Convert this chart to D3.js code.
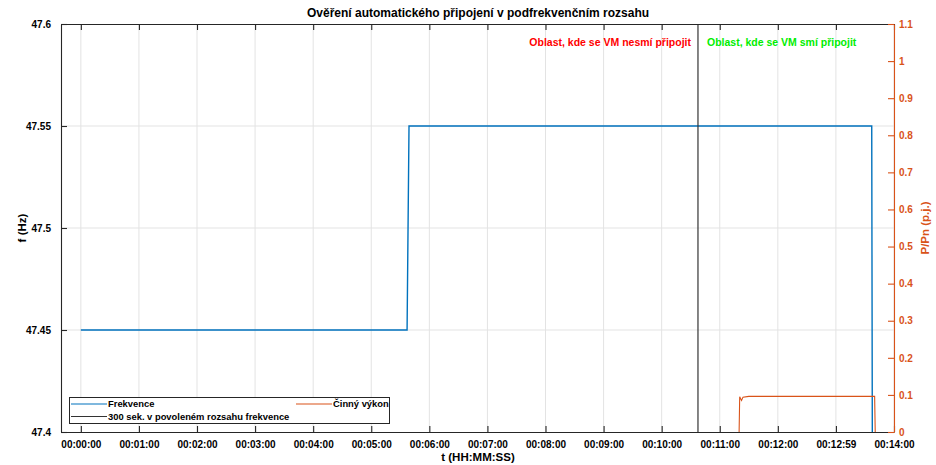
<!DOCTYPE html>
<html><head><meta charset="utf-8">
<script src="https://cdn.jsdelivr.net/npm/d3@7"></script>
<style>body{margin:0;background:#fff}svg{display:block}text{font-family:"Liberation Sans",Arial,sans-serif}</style>
</head><body><svg id="c" width="936" height="465"></svg>
<script>
// ---- data ----
const title = "Ověření automatického připojení v podfrekvenčním rozsahu";
const xTickSeconds = [0,60,120,180,240,300,360,420,480,540,600,660,720,780,840];
const xTickLabels = ["00:00:00","00:01:00","00:02:00","00:03:00","00:04:00","00:05:00","00:06:00","00:07:00","00:08:00","00:09:00","00:10:00","00:11:00","00:12:00","00:12:59","00:14:00"];
const fTicks = [47.4,47.45,47.5,47.55,47.6];
const fTickLabels = ["47.4","47.45","47.5","47.55","47.6"];
const pTicks = [0,0.1,0.2,0.3,0.4,0.5,0.6,0.7,0.8,0.9,1,1.1];
const pTickLabels = ["0","0.1","0.2","0.3","0.4","0.5","0.6","0.7","0.8","0.9","1","1.1"];
const freqT = [0, 337, 339, 817, 818];
const freqV = [47.45, 47.45, 47.55, 47.55, 47.30];
const powerT = [680, 680.6, 682.5, 684, 690, 820, 820.6];
const powerV = [0, 0.095, 0.085, 0.094, 0.096, 0.096, 0];
const allowedT = [637.5];
const legendNames = ["Frekvence","Činný výkon","300 sek. v povoleném rozsahu frekvence"];
const regionLabels = ["Oblast, kde se VM nesmí připojit","Oblast, kde se VM smí připojit"];

// ---- layout ----
const L=61,R=894,T=24,B=432;
const blue="#0072BD", orange="#D95319", grid="#e3e3e3", axc="#262626";
const svg=d3.select("#c");
const x=d3.scaleLinear().domain([-20.5,840]).range([L,R]);
const yF=d3.scaleLinear().domain([47.4,47.6]).range([B,T]);
const yP=d3.scaleLinear().domain([0,1.1]).range([B,T]);

// grid
svg.append("g").selectAll("line").data(xTickSeconds).join("line")
  .attr("x1",d=>x(d)).attr("x2",d=>x(d)).attr("y1",T).attr("y2",B).attr("stroke",grid).attr("stroke-width",1);
svg.append("g").selectAll("line").data(fTicks.slice(1,-1)).join("line")
  .attr("x1",L).attr("x2",R).attr("y1",d=>yF(d)).attr("y2",d=>yF(d)).attr("stroke",grid).attr("stroke-width",1);

svg.append("clipPath").attr("id","cp").append("rect").attr("x",L).attr("y",T).attr("width",R-L).attr("height",B-T);
const plot=svg.append("g").attr("clip-path","url(#cp)");

// frequency
const freq=freqT.map((t,i)=>[t,freqV[i]]);
plot.append("path").datum(freq).attr("fill","none").attr("stroke",blue).attr("stroke-width",1.4)
  .attr("d",d3.line().x(d=>x(d[0])).y(d=>yF(d[1])));
// power
const pw=powerT.map((t,i)=>[t,powerV[i]]);
plot.append("path").datum(pw).attr("fill","none").attr("stroke",orange).attr("stroke-width",1.1)
  .attr("d",d3.line().x(d=>x(d[0])).y(d=>yP(d[1])));
// 300 s line
plot.selectAll(".al").data(allowedT).join("line").attr("x1",d=>x(d)).attr("x2",d=>x(d)).attr("y1",T).attr("y2",B)
  .attr("stroke","#333").attr("stroke-width",1.2);

// axes
const fmtX=d=>xTickLabels[xTickSeconds.indexOf(d)];
const gx=svg.append("g").attr("transform",`translate(0,${B})`)
  .call(d3.axisBottom(x).tickValues(xTickSeconds).tickFormat(fmtX).tickSizeInner(-6).tickSizeOuter(0).tickPadding(10));
const gxt=svg.append("g").attr("transform",`translate(0,${T})`)
  .call(d3.axisTop(x).tickValues(xTickSeconds).tickFormat("").tickSizeInner(-6).tickSizeOuter(0));
const fmtF=d=>fTickLabels[fTicks.indexOf(d)];
const gy=svg.append("g").attr("transform",`translate(${L},0)`)
  .call(d3.axisLeft(yF).tickValues(fTicks).tickFormat(fmtF).tickSizeInner(-6).tickSizeOuter(0).tickPadding(10));
const fmtP=d=>pTickLabels[pTicks.indexOf(d)];
const gp=svg.append("g").attr("transform",`translate(${R},0)`)
  .call(d3.axisRight(yP).tickValues(pTicks).tickFormat(fmtP).tickSizeInner(-6).tickSizeOuter(0).tickPadding(5));
[gx,gxt,gy].forEach(g=>{g.selectAll("path,line").attr("stroke",axc).attr("stroke-width",1.1);
  g.selectAll("text").attr("fill","#000").attr("font-size",10).attr("font-weight","bold");});
gp.selectAll("path,line").attr("stroke",orange).attr("stroke-width",1.1);
gp.selectAll("text").attr("fill",orange).attr("font-size",10).attr("font-weight","bold");
gx.selectAll("text").attr("dy","0.6em");

// titles
svg.append("text").attr("x",478).attr("y",17).attr("text-anchor","middle").attr("font-size",12).attr("font-weight","bold").text(title);
svg.append("text").attr("x",478).attr("y",461).attr("text-anchor","middle").attr("font-size",11.5).attr("font-weight","bold").text("t (HH:MM:SS)");
svg.append("text").attr("transform",`translate(26,${(T+B)/2}) rotate(-90)`).attr("text-anchor","middle").attr("font-size",11.5).attr("font-weight","bold").text("f (Hz)");
svg.append("text").attr("transform",`translate(929,${(T+B)/2}) rotate(-90)`).attr("text-anchor","middle").attr("font-size",11.5).attr("font-weight","bold").attr("fill",orange).text("P/Pn (p.j.)");

// region labels
svg.append("text").attr("x",x(allowedT[0])-7).attr("y",45.5).attr("text-anchor","end").attr("font-size",10.5).attr("font-weight","bold").attr("fill","#ff0000").text(regionLabels[0]);
svg.append("text").attr("x",x(allowedT[0])+9).attr("y",45.5).attr("text-anchor","start").attr("font-size",10.5).attr("font-weight","bold").attr("fill","#00ee00").text(regionLabels[1]);

// legend
const lg=svg.append("g");
lg.append("rect").attr("x",69.5).attr("y",397.5).attr("width",320).attr("height",26).attr("fill","#fff").attr("stroke","#262626").attr("stroke-width",1);
const items=[{n:legendNames[0],c:blue,x:71,y:404},{n:legendNames[1],c:orange,x:296,y:404},{n:legendNames[2],c:"#333",x:71,y:416.5}];
items.forEach(it=>{
  lg.append("line").attr("x1",it.x).attr("x2",it.x+36).attr("y1",it.y).attr("y2",it.y).attr("stroke",it.c).attr("stroke-width",1.2);
  lg.append("text").attr("x",it.x+37).attr("y",it.y+3.3).attr("font-size",9.4).attr("font-weight","bold").text(it.n);
});
</script></body></html>
